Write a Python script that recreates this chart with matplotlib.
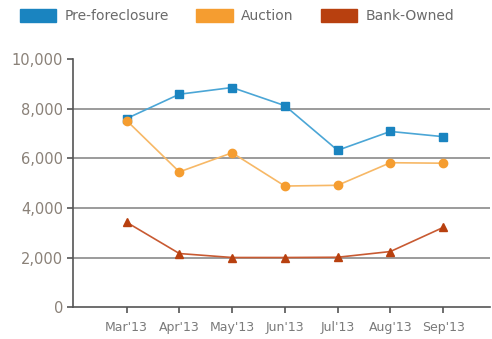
import matplotlib.pyplot as plt
from matplotlib.patches import Patch

months = ["Mar'13", "Apr'13", "May'13", "Jun'13", "Jul'13", "Aug'13", "Sep'13"]
pre_foreclosure = [7600, 8580, 8850, 8120, 6320, 7080, 6870]
auction = [7520, 5450, 6220, 4880, 4910, 5820, 5800]
bank_owned = [3420, 2160, 2000, 2000, 2010, 2240, 3210]

fig = plt.figure(figsize=(4.92, 3.39), dpi=100)
ax = fig.add_axes([0.148, 0.094, 0.848, 0.732])

x = range(len(months))
ax.plot(x, pre_foreclosure, color="#4ba6d6", lw=1.2, marker="s", ms=5.5,
        mfc="#1a84c0", mec="#1a84c0")
ax.plot(x, auction, color="#f7b866", lw=1.2, marker="o", ms=6,
        mfc="#f59d30", mec="#f59d30")
ax.plot(x, bank_owned, color="#c85a32", lw=1.2, marker="^", ms=5.5,
        mfc="#b8400f", mec="#b8400f")

ax.set_xlim(-1.02, 6.89)
ax.set_ylim(0, 10000)
ax.set_yticks([0, 2000, 4000, 6000, 8000, 10000])
ax.set_yticklabels(["0", "2,000", "4,000", "6,000", "8,000", "10,000"])
ax.set_xticks(list(x))
ax.set_xticklabels(months)

for v in [2000, 4000, 6000, 8000]:
    ax.axhline(v, color="#8a8a8a", lw=1.2, zorder=0)

for s in ["top", "right"]:
    ax.spines[s].set_visible(False)
for s in ["left", "bottom"]:
    ax.spines[s].set_color("#555555")
    ax.spines[s].set_linewidth(1.2)

ax.tick_params(axis="y", length=4, width=1.2, color="#555555", labelsize=10.5,
               labelcolor="#8a8178", pad=3)
ax.tick_params(axis="x", length=4, width=1.2, color="#555555", labelsize=9,
               labelcolor="#7a7a7a", pad=6)

handles = [Patch(color="#1a84c0"), Patch(color="#f59d30"), Patch(color="#b8400f")]
fig.legend(handles, ["Pre-foreclosure", "Auction", "Bank-Owned"],
           loc="upper left", bbox_to_anchor=(0.015, 1.01), ncol=3, frameon=False,
           fontsize=10, labelcolor="#6a6a6a", handlelength=2.6, handleheight=1.0,
           columnspacing=2.0, handletextpad=0.6)

fig.savefig("out.png", dpi=100)
